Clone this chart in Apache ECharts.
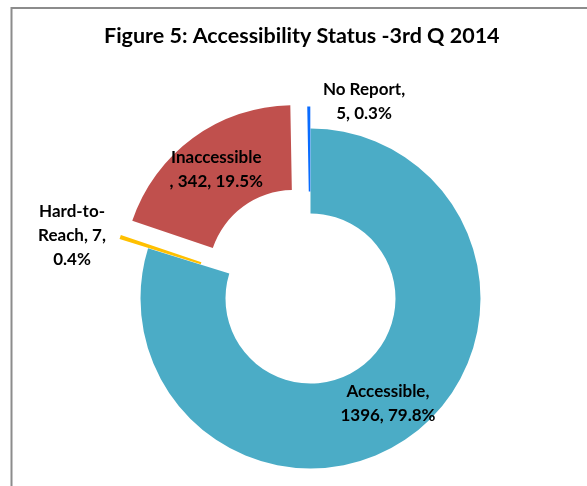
<!DOCTYPE html>
<html>
<head>
<meta charset="utf-8">
<script src="https://cdn.jsdelivr.net/npm/echarts@6/dist/echarts.min.js"></script>
<style>
  html, body { margin: 0; padding: 0; background: #ffffff; }
  #chart { width: 587px; height: 486px; }
</style>
</head>
<body>
<div id="chart"></div>
<script>
// Accessibility status counts, 3rd quarter 2014
const categories = ['Accessible', 'Hard-to-Reach', 'Inaccessible', 'No Report'];
const counts = [1396, 7, 342, 5];

// Slice styling
const sliceColors = ['#4BACC6', '#FFC000', '#C0504D', '#0A6CFF'];
const explodeOffsets = [0, 30, 29, 22];
// null = label drawn inside the ring; otherwise the label's centre point outside it
const outsideLabelAt = [null, [72, 236], null, [364, 102]];

const FONT = 'Lato, "Open Sans", sans-serif';
const LABEL_SIZE = 17;
const LABEL_LINE_HEIGHT = 24;

const total = counts.reduce((a, b) => a + b, 0);
const percentOf = v => (v / total * 100).toFixed(1);

// Data label text, wrapped into lines
function labelText(name, value, pct) {
  if (name === 'Hard-to-Reach') return 'Hard-to-\nReach, ' + value + ',\n' + pct + '%';
  if (name === 'Inaccessible') return name + '\n, ' + value + ', ' + pct + '%';
  return name + ',\n' + value + ', ' + pct + '%';
}

// One ring per category so each slice can be pulled out by its own distance;
// every ring holds the full data set so the library lays out the same angles.
const series = categories.map((cat, i) => ({
  type: 'pie',
  name: cat,
  center: [310.5, 298.5],
  radius: [85, 170],
  startAngle: 90,
  clockwise: true,
  selectedMode: 'multiple',
  selectedOffset: explodeOffsets[i],
  avoidLabelOverlap: false,
  percentPrecision: 1,
  silent: true,
  animation: false,
  emphasis: { disabled: true },
  labelLine: { show: false },
  itemStyle: { borderWidth: 0 },
  label: {
    show: true,
    position: 'inside',
    fontFamily: FONT,
    fontWeight: 'bold',
    fontSize: LABEL_SIZE,
    lineHeight: LABEL_LINE_HEIGHT,
    color: '#000000',
    align: 'center',
    formatter: p => labelText(p.name, p.value, p.percent)
  },
  data: categories.map((name, j) => ({
    name: name,
    value: counts[j],
    selected: j === i && explodeOffsets[i] > 0,
    itemStyle: { color: j === i ? sliceColors[j] : 'rgba(0,0,0,0)' },
    label: { show: j === i && !outsideLabelAt[j] }
  }))
}));

// Labels of the thin slices sit beside the ring
const outsideLabels = categories
  .map((name, j) => outsideLabelAt[j] ? {
    type: 'text',
    x: outsideLabelAt[j][0],
    y: outsideLabelAt[j][1],
    silent: true,
    style: {
      text: labelText(name, counts[j], percentOf(counts[j])),
      font: 'bold ' + LABEL_SIZE + 'px ' + FONT,
      fill: '#000000',
      align: 'center',
      verticalAlign: 'middle',
      lineHeight: LABEL_LINE_HEIGHT
    }
  } : null)
  .filter(Boolean);

const chart = echarts.init(document.getElementById('chart'), null, { renderer: 'canvas' });
chart.setOption({
  backgroundColor: '#ffffff',
  animation: false,
  title: {
    text: 'Figure 5: Accessibility Status -3rd Q 2014',
    left: 99,
    top: 20,
    textStyle: { fontFamily: FONT, fontWeight: 'bold', fontSize: 21.5, color: '#000000' }
  },
  graphic: [{
    type: 'rect',
    shape: { x: 11.5, y: 8, width: 620, height: 520 },
    style: { fill: 'none', stroke: '#8c8c8c', lineWidth: 2 },
    silent: true
  }].concat(outsideLabels),
  series: series
});
</script>
</body>
</html>
